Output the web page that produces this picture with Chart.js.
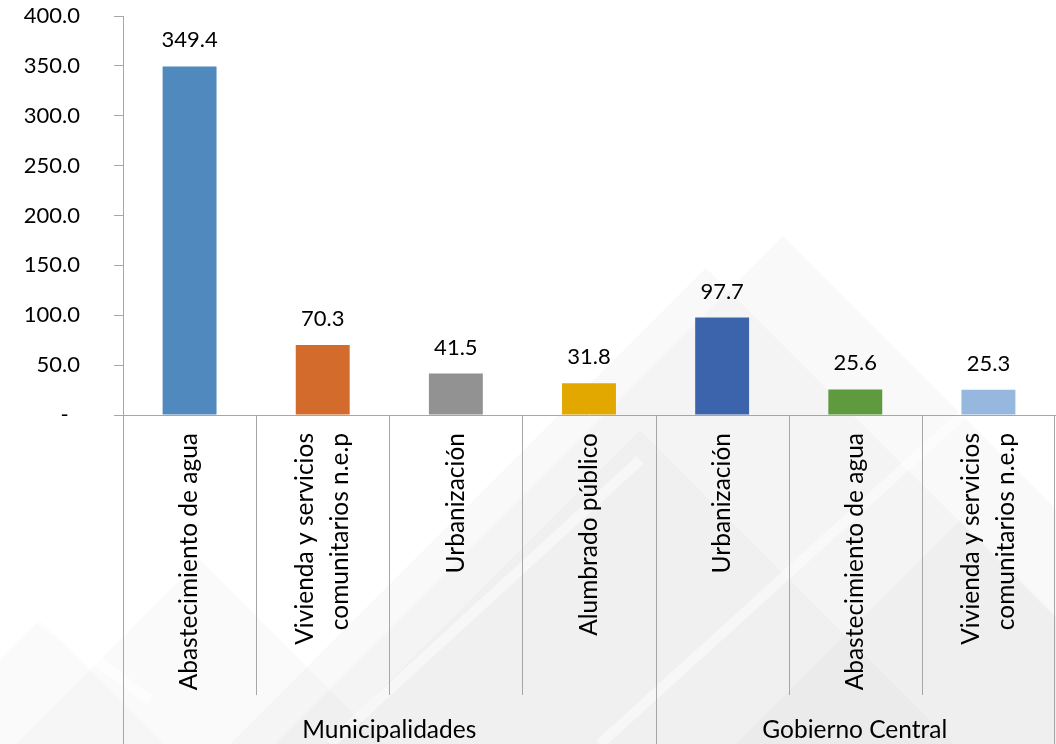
<!DOCTYPE html>
<html>
<head>
<meta charset="utf-8">
<script src="https://cdn.jsdelivr.net/npm/chart.js@4.4.1/dist/chart.umd.min.js"></script>
<style>
  html, body { margin: 0; padding: 0; background: #fff; }
  #wrap { width: 1056px; height: 744px; position: relative; }
</style>
</head>
<body>
<div id="wrap"><canvas id="chart"></canvas></div>
<script>
// datos
const categorias = [
  'Abastecimiento de agua',
  ['Vivienda y servicios', 'comunitarios n.e.p'],
  'Urbanización',
  'Alumbrado público',
  'Urbanización',
  'Abastecimiento de agua',
  ['Vivienda y servicios', 'comunitarios n.e.p']
];
const valores = [349.4, 70.3, 41.5, 31.8, 97.7, 25.6, 25.3];
const colores = ['#4f89bd', '#d26b2b', '#929292', '#e2a800', '#3c64ac', '#609a3e', '#96b7de'];
const grupos = ['Municipalidades', 'Gobierno Central'];
const tamanoGrupos = [4, 3];
const yTicks = [0, 50, 100, 150, 200, 250, 300, 350, 400];

const FONT = 'Lato, "Open Sans", sans-serif';
const GRIS = '#a6a6a6';

// fondo decorativo (marca de agua)
const fondo = {
  id: 'fondo',
  beforeDraw(chart) {
    const ctx = chart.ctx;
    const H = chart.height;
    ctx.save();
    const tri = (px, py, a) => {
      ctx.fillStyle = 'rgba(0,0,0,' + a + ')';
      ctx.beginPath();
      ctx.moveTo(px, py);
      ctx.lineTo(px + (H - py) + 40, H + 40);
      ctx.lineTo(px - (H - py) - 40, H + 40);
      ctx.closePath();
      ctx.fill();
    };
    tri(783, 236, 0.025);
    tri(706, 268, 0.022);
    tri(640, 430, 0.02);
    tri(960, 520, 0.025);
    tri(200, 560, 0.02);
    tri(40, 620, 0.02);
    ctx.strokeStyle = 'rgba(255,255,255,0.45)';
    ctx.lineWidth = 10;
    ctx.beginPath();
    ctx.moveTo(600, 744); ctx.lineTo(1056, 330);
    ctx.moveTo(330, 744); ctx.lineTo(640, 460);
    ctx.moveTo(0, 590); ctx.lineTo(150, 700);
    ctx.stroke();
    ctx.restore();
  }
};

// etiquetas de valor, categorías y divisiones del eje
const anotaciones = {
  id: 'anotaciones',
  afterDatasetsDraw(chart) {
    const ctx = chart.ctx;
    const meta = chart.getDatasetMeta(0);
    ctx.save();
    ctx.font = '22px ' + FONT;
    ctx.fillStyle = '#000';
    ctx.textAlign = 'center';
    ctx.textBaseline = 'alphabetic';
    meta.data.forEach((bar, i) => {
      ctx.fillText(valores[i].toFixed(1), bar.x, bar.y - 19);
    });
    ctx.restore();
  },
  afterDraw(chart) {
    const ctx = chart.ctx;
    const xs = chart.scales.x;
    const top = chart.chartArea.bottom;
    const n = valores.length;
    const borde = i => {
      if (i === 0) return xs.left;
      if (i === n) return xs.right - 1;
      return (xs.getPixelForValue(i - 1) + xs.getPixelForValue(i)) / 2;
    };
    const limites = [0];
    tamanoGrupos.forEach(t => limites.push(limites[limites.length - 1] + t));
    ctx.save();
    ctx.strokeStyle = GRIS;
    ctx.lineWidth = 1;
    for (let i = 0; i <= n; i++) {
      const x = Math.round(borde(i)) + 0.5;
      ctx.beginPath();
      ctx.moveTo(x, top);
      ctx.lineTo(x, limites.includes(i) ? chart.height : top + 280);
      ctx.stroke();
    }
    ctx.font = '24.5px ' + FONT;
    ctx.fillStyle = '#000';
    // categorías giradas
    categorias.forEach((c, i) => {
      const lineas = Array.isArray(c) ? c : [c];
      const cx = xs.getPixelForValue(i);
      ctx.save();
      ctx.translate(cx, top + 18);
      ctx.rotate(-Math.PI / 2);
      ctx.textAlign = 'right';
      ctx.textBaseline = 'middle';
      lineas.forEach((l, k) => {
        ctx.fillText(l, 0, (k - (lineas.length - 1) / 2) * 35);
      });
      ctx.restore();
    });
    ctx.textAlign = 'center';
    ctx.textBaseline = 'middle';
    grupos.forEach((g, k) => {
      const cx = (borde(limites[k]) + borde(limites[k + 1])) / 2;
      ctx.fillText(g, cx, top + 315);
    });
    ctx.restore();
  }
};

new Chart(document.getElementById('chart'), {
  type: 'bar',
  data: {
    labels: categorias,
    datasets: [{
      data: valores,
      backgroundColor: colores,
      categoryPercentage: 1,
      barPercentage: 0.405
    }]
  },
  options: {
    responsive: true,
    maintainAspectRatio: false,
    animation: false,
    layout: { padding: { top: 0, right: 1, left: 0, bottom: 0 } },
    plugins: { legend: { display: false }, tooltip: { enabled: false } },
    scales: {
      x: {
        grid: { display: false, drawTicks: false },
        border: { color: GRIS },
        ticks: { display: false },
        afterFit(scale) { scale.height = 329; }
      },
      y: {
        min: 0,
        max: 400,
        afterBuildTicks(scale) { scale.ticks = yTicks.map(v => ({ value: v })); },
        grid: { drawOnChartArea: false, tickLength: 9, color: GRIS },
        border: { color: GRIS },
        ticks: {
          color: '#000',
          font: { family: FONT, size: 22 },
          padding: 34,
          callback: v => v === 0 ? '-\u00a0\u00a0' : v.toFixed(1)
        },
        afterFit(scale) {
          scale.width = 123;
          scale.paddingTop = 16;
          scale.paddingBottom = 0;
        }
      }
    }
  },
  plugins: [fondo, anotaciones]
});
</script>
</body>
</html>
